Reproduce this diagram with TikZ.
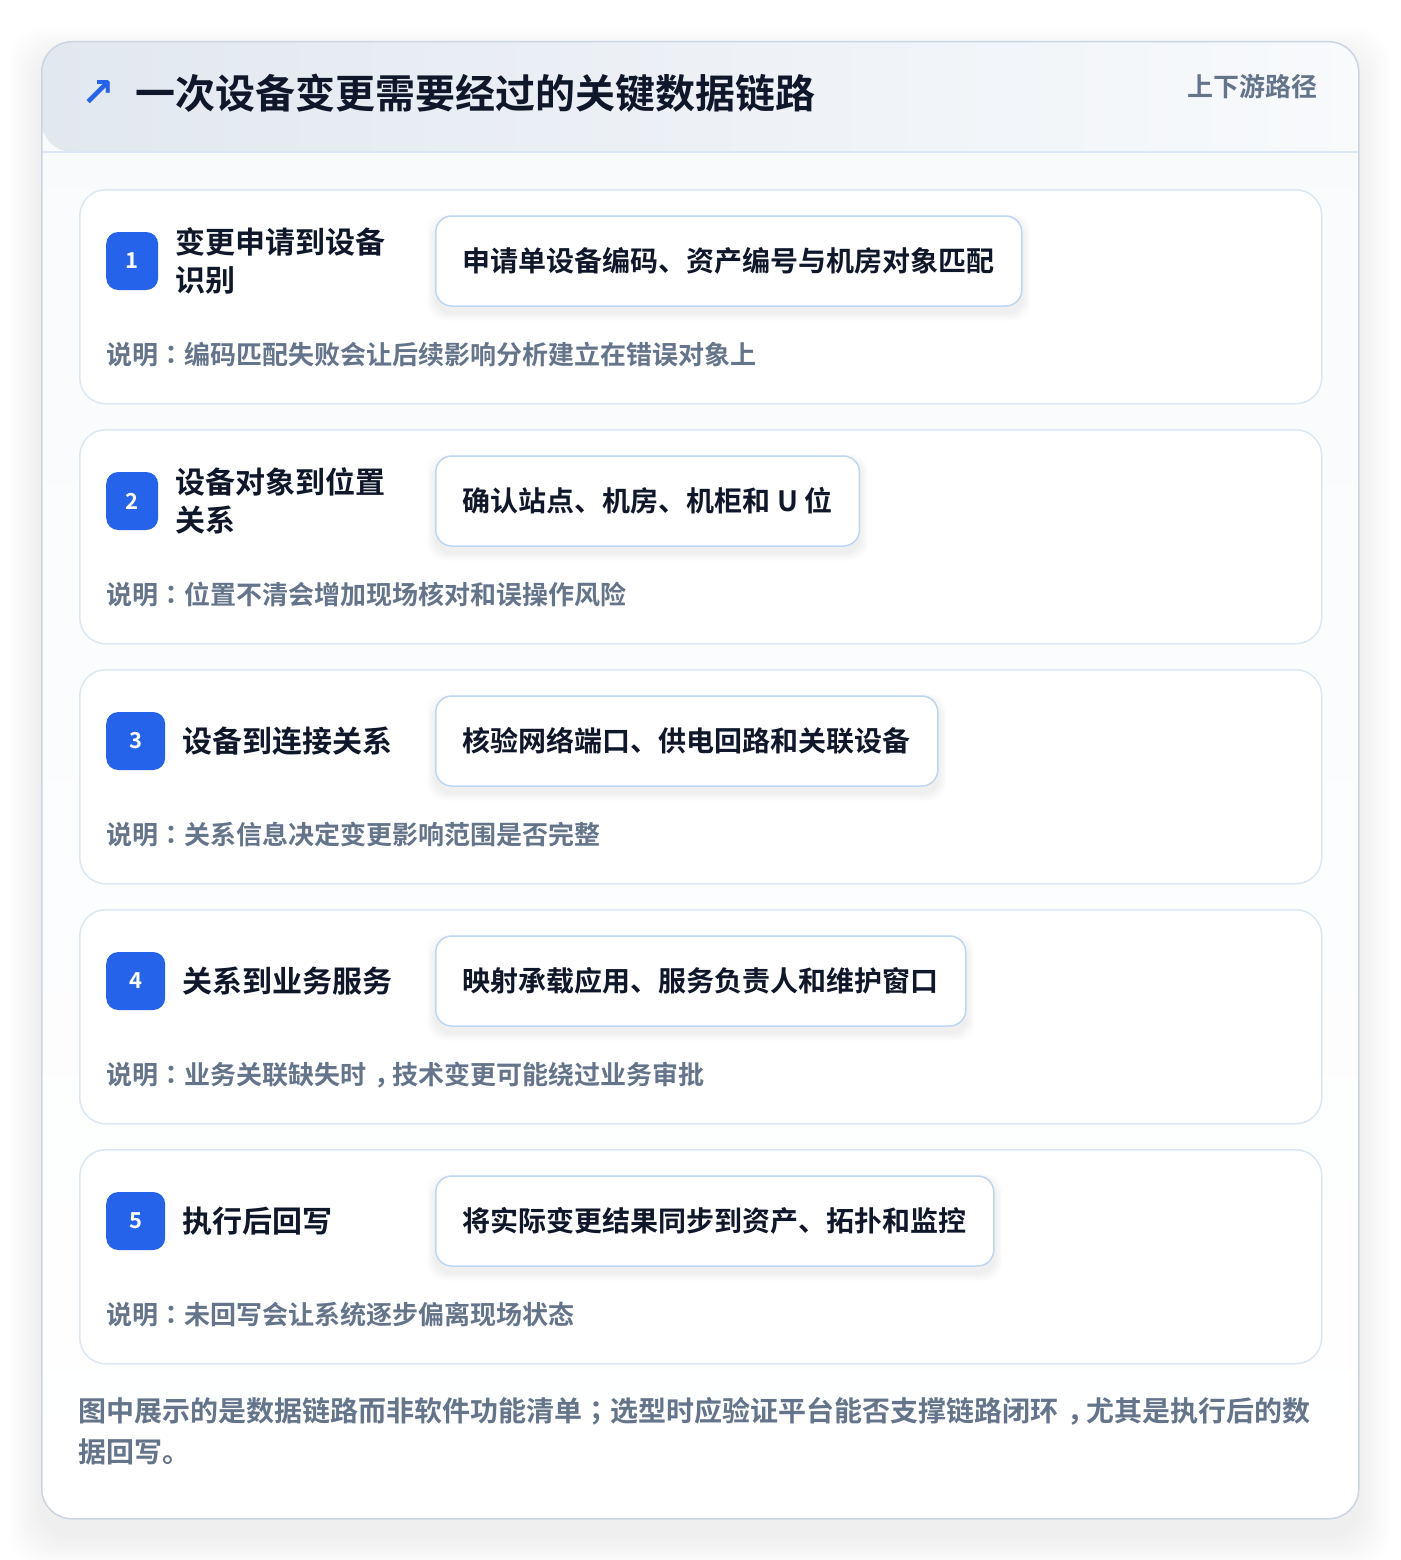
\documentclass[tikz,border=0pt]{standalone}
\usepackage{fontspec}
\setmainfont{Noto Sans CJK SC}[BoldFont={* Bold}]
\newfontfamily\punctfont{Noto Sans CJK TC}[BoldFont={* Bold}]
\newfontfamily\arrowfont{DejaVu Sans}
\newcommand{\cpunct}[1]{{\punctfont#1}}
\newcommand{\ccomma}{\kern0.32em，\kern-0.32em}
\usetikzlibrary{positioning,calc}
\definecolor{panelline}{HTML}{CBD5E1}
\definecolor{headleft}{HTML}{E2E8F0}
\definecolor{headright}{HTML}{F8FAFC}
\definecolor{headline}{HTML}{DBE7F6}
\definecolor{bodytop}{HTML}{F8FAFC}
\definecolor{cardline}{HTML}{DCE7F4}
\definecolor{pillline}{HTML}{BFD6F2}
\definecolor{badgeblue}{HTML}{2563EB}
\definecolor{titleink}{HTML}{0F172A}
\definecolor{noteink}{HTML}{64748B}
\pgfdeclarelayer{panel}
\pgfdeclarelayer{shade}
\pgfsetlayers{panel,shade,main}
\tikzset{
  card/.style={draw=cardline, line width=1.5pt, fill=white, rounded corners=26pt, inner sep=0pt},
  badge/.style={fill=badgeblue, rounded corners=12pt, text=white, inner sep=0pt,
    minimum height=58pt, font=\bfseries\fontsize{22}{26}\selectfont},
  steptitle/.style={align=left, inner sep=0pt, text=titleink, font=\bfseries\fontsize{30}{38}\selectfont},
  pill/.style={anchor=west, draw=pillline, line width=1.5pt, fill=white, rounded corners=16pt,
    minimum height=90pt, inner xsep=27pt, text=titleink, font=\bfseries\fontsize{28}{34}\selectfont},
  note/.style={anchor=west, inner sep=0pt, text=noteink, font=\bfseries\fontsize{26}{30}\selectfont},
}
\begin{document}
\begin{tikzpicture}[x=1pt,y=-1pt]
\useasboundingbox (0,0) rectangle (1400,1560);
\begin{pgfonlayer}{panel}
\fill[white] (0,0) rectangle (1400,1560);
% soft shadow under the panel
\foreach \s in {1,...,16}
  \fill[black, opacity=0.0045, rounded corners=34pt] (41-2*\s,59-2*\s) rectangle (1358+2*\s,1536+2*\s);
\node (panel) [draw=panelline, line width=1.5pt, fill=white, rounded corners=30pt, inner sep=0pt,
  minimum width=1317, minimum height=1477, anchor=north west,
  path picture={
    \shade[top color=bodytop, bottom color=white] (path picture bounding box.north west) rectangle (path picture bounding box.south east);
    \shade[left color=headleft, right color=headright] (path picture bounding box.north west) rectangle ([yshift=-110pt]path picture bounding box.north east);
    \draw[headline, line width=1.5pt] ([yshift=-110pt]path picture bounding box.north west) -- ([yshift=-110pt]path picture bounding box.north east);
  }] at (41,41) {};
\end{pgfonlayer}
% header
\node (icon) [anchor=west, inner sep=0pt, text=badgeblue, font=\arrowfont\bfseries\fontsize{40}{46}\selectfont] at (81,94) {↗};
\node (title) [anchor=west, inner sep=0pt, text=titleink, font=\bfseries\fontsize{40}{48}\selectfont] at (135,93) {一次设备变更需要经过的关键数据链路};
\node (tag) [anchor=east, inner sep=0pt, text=noteink, font=\bfseries\fontsize{26}{30}\selectfont] at (1318,87) {上下游路径};
% steps
\foreach \i/\bw/\ttl/\pl/\nt in {
  1/52/{变更申请到设备\\识别}/{申请单设备编码、资产编号与机房对象匹配}/{说明\cpunct{：}编码匹配失败会让后续影响分析建立在错误对象上},
  2/52/{设备对象到位置\\关系}/{确认站点、机房、机柜和 U 位}/{说明\cpunct{：}位置不清会增加现场核对和误操作风险},
  3/59/{设备到连接关系}/{核验网络端口、供电回路和关联设备}/{说明\cpunct{：}关系信息决定变更影响范围是否完整},
  4/59/{关系到业务服务}/{映射承载应用、服务负责人和维护窗口}/{说明\cpunct{：}业务关联缺失时\ccomma 技术变更可能绕过业务审批},
  5/59/{执行后回写}/{将实际变更结果同步到资产、拓扑和监控}/{说明\cpunct{：}未回写会让系统逐步偏离现场状态}}{
  \pgfmathsetmacro{\cardtop}{189+240*(\i-1)}
  \begin{pgfonlayer}{panel}
  \node (card\i) [card, minimum width=1242, minimum height=214, anchor=north west] at (79,\cardtop) {};
  \end{pgfonlayer}
  \node (badge\i) [badge, minimum width=\bw, anchor=west] at (106,\cardtop+72) {\i};
  \node (title\i) [steptitle, right=17pt of badge\i] {\ttl};
  \node (pill\i) [pill] at (435,\cardtop+72) {\pl};
  \begin{pgfonlayer}{shade}
  \foreach \s in {1,...,8}
    \fill[black, opacity=0.006, rounded corners=18pt] ($(pill\i.south west)+(-\s,6+\s)$) rectangle ($(pill\i.north east)+(\s,6-\s)$);
  \end{pgfonlayer}
  \node (note\i) [note] at (106,\cardtop+166) {\nt};
}
% closing remark
\node (footer) [anchor=north west, align=left, inner sep=0pt, text=noteink, font=\bfseries\fontsize{28}{41}\selectfont] at (78,1397)
  {图中展示的是数据链路而非软件功能清单\cpunct{；}选型时应验证平台能否支撑链路闭环\ccomma 尤其是执行后的数\\据回写。};
\end{tikzpicture}
\end{document}
